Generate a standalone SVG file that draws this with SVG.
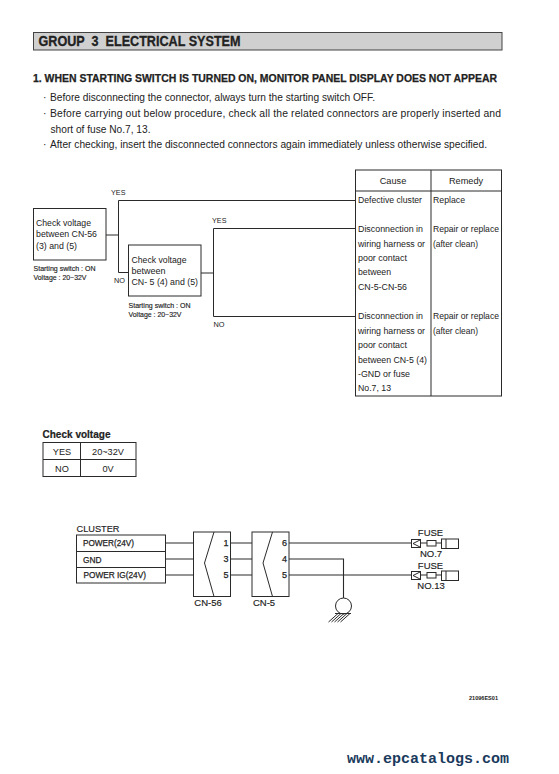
<svg xmlns="http://www.w3.org/2000/svg" width="559" height="774" viewBox="0 0 559 774">
<style>
text{font-family:"Liberation Sans",Arial,sans-serif;fill:#222}
.b{font-size:9px}
.s{font-size:7.2px;stroke:#222;stroke-width:.15px}
.y{font-size:8px}
.t{font-size:9.2px}
.l{font-size:9px;stroke:#222;stroke-width:.25px}
.f{font-size:9.5px;stroke:#222;stroke-width:.15px}
.n{fill:#fff;stroke:#2a2a2a;stroke-width:1}
.w{fill:none;stroke:#2a2a2a;stroke-width:1}
.m{text-anchor:middle}
</style>
<rect width="559" height="774" fill="#fff"/>
<g id="header">
<rect x="33.500" y="32.500" width="468.500" height="17.500" fill="#d0d0d0" stroke="#444" stroke-width="1"/>
<text x="38.500" y="46" font-size="14" font-weight="bold" textLength="202" lengthAdjust="spacingAndGlyphs" xml:space="preserve" style="stroke:#222;stroke-width:.3px">GROUP  3  ELECTRICAL SYSTEM</text>
<text x="33" y="81.500" font-size="11" font-weight="bold" textLength="464" lengthAdjust="spacingAndGlyphs" style="stroke:#222;stroke-width:.25px">1. WHEN STARTING SWITCH IS TURNED ON, MONITOR PANEL DISPLAY DOES NOT APPEAR</text>
</g>
<g id="notes">
<text x="43" y="101" font-size="10.400">·</text><text x="50" y="101" font-size="10.400" textLength="325" lengthAdjust="spacingAndGlyphs">Before disconnecting the connector, always turn the starting switch OFF.</text>
<text x="43" y="117" font-size="10.400">·</text><text x="50" y="117" font-size="10.400" textLength="451" lengthAdjust="spacing">Before carrying out below procedure, check all the related connectors are properly inserted and</text>
<text x="50.500" y="133" font-size="10.400" textLength="100" lengthAdjust="spacingAndGlyphs">short of fuse No.7, 13.</text>
<text x="43" y="148" font-size="10.400">·</text><text x="50" y="148" font-size="10.400" textLength="437" lengthAdjust="spacingAndGlyphs">After checking, insert the disconnected connectors again immediately unless otherwise specified.</text>
</g>
<g id="connectors">
<path class="w" d="M106 235H118M355 200.500H118.500V272.500H128.500M201 273H213M355 228.500H213.500V316.500H355"/>
<path class="w" style="stroke-width:1.1" d="M165 543H193M165 559H193M165 575H193M230 543H252M230 559H252M230 575H252M289 543H412M289 575H412M289 559H343.500V598"/>
<path class="w" d="M421 543H427M436 543H441M421 575H427M436 575H441"/>
</g>
<g id="check1">
<rect class="n" x="33.500" y="208.500" width="72.500" height="51.500"/>
<text class="b" x="36" y="226" textLength="55" lengthAdjust="spacingAndGlyphs">Check voltage</text>
<text class="b" x="36" y="237" textLength="61" lengthAdjust="spacingAndGlyphs">between CN-56</text>
<text class="b" x="36" y="249" textLength="41" lengthAdjust="spacingAndGlyphs">(3) and (5)</text>
<text class="s" x="33.500" y="270.500" textLength="62" lengthAdjust="spacingAndGlyphs">Starting switch : ON</text>
<text class="s" x="33.500" y="279.500" textLength="53" lengthAdjust="spacingAndGlyphs">Voltage : 20~32V</text>
</g>
<g id="check2">
<rect class="n" x="128.500" y="245" width="72.500" height="51"/>
<text class="b" x="131.500" y="263" textLength="55" lengthAdjust="spacingAndGlyphs">Check voltage</text>
<text class="b" x="131.500" y="274" textLength="34" lengthAdjust="spacingAndGlyphs">between</text>
<text class="b" x="131.500" y="285" textLength="66.500" lengthAdjust="spacingAndGlyphs">CN- 5 (4) and (5)</text>
<text class="s" x="128.500" y="307.500" textLength="62" lengthAdjust="spacingAndGlyphs">Starting switch : ON</text>
<text class="s" x="128.500" y="317" textLength="53" lengthAdjust="spacingAndGlyphs">Voltage : 20~32V</text>
</g>
<g id="labels">
<text class="y" x="111" y="195" textLength="14.500" lengthAdjust="spacingAndGlyphs">YES</text>
<text class="y" x="114" y="283" textLength="11" lengthAdjust="spacingAndGlyphs">NO</text>
<text class="y" x="212" y="223" textLength="14.500" lengthAdjust="spacingAndGlyphs">YES</text>
<text class="y" x="213.500" y="327" textLength="11" lengthAdjust="spacingAndGlyphs">NO</text>
</g>
<g id="cause-table">
<rect class="n" x="355.500" y="170" width="146" height="226"/>
<path class="w" d="M355.500 191H501.500M431 170V396"/>
<text class="t m" x="393" y="184">Cause</text>
<text class="t m" x="466" y="184">Remedy</text>
<text class="t" x="358" y="203" textLength="64" lengthAdjust="spacingAndGlyphs">Defective cluster</text>
<text class="t" x="433" y="203" textLength="32" lengthAdjust="spacingAndGlyphs">Replace</text>
<text class="t" x="358" y="232" textLength="65" lengthAdjust="spacingAndGlyphs">Disconnection in</text>
<text class="t" x="358" y="246.500" textLength="67" lengthAdjust="spacingAndGlyphs">wiring harness or</text>
<text class="t" x="358" y="261" textLength="49" lengthAdjust="spacingAndGlyphs">poor contact</text>
<text class="t" x="358" y="275" textLength="33" lengthAdjust="spacingAndGlyphs">between</text>
<text class="t" x="358" y="290" textLength="49" lengthAdjust="spacingAndGlyphs">CN-5-CN-56</text>
<text class="t" x="358" y="319" textLength="65" lengthAdjust="spacingAndGlyphs">Disconnection in</text>
<text class="t" x="358" y="333.500" textLength="67" lengthAdjust="spacingAndGlyphs">wiring harness or</text>
<text class="t" x="358" y="348" textLength="49" lengthAdjust="spacingAndGlyphs">poor contact</text>
<text class="t" x="358" y="362.500" textLength="69" lengthAdjust="spacingAndGlyphs">between CN-5 (4)</text>
<text class="t" x="358" y="377" textLength="52" lengthAdjust="spacingAndGlyphs">-GND or fuse</text>
<text class="t" x="358" y="391" textLength="33" lengthAdjust="spacingAndGlyphs">No.7, 13</text>
<text class="t" x="433" y="232" textLength="66" lengthAdjust="spacingAndGlyphs">Repair or replace</text>
<text class="t" x="433" y="246.500" textLength="45" lengthAdjust="spacingAndGlyphs">(after clean)</text>
<text class="t" x="433" y="319" textLength="66" lengthAdjust="spacingAndGlyphs">Repair or replace</text>
<text class="t" x="433" y="333.500" textLength="45" lengthAdjust="spacingAndGlyphs">(after clean)</text>
</g>
<g id="check-voltage">
<text x="42.500" y="438" font-size="10.500" font-weight="bold" textLength="68" lengthAdjust="spacingAndGlyphs" style="stroke:#222;stroke-width:.2px">Check voltage</text>
<rect class="n" x="43" y="442.500" width="93" height="34"/>
<path class="w" d="M43 459.500H136M80.500 442.500V476.500"/>
<text class="t m" x="62" y="454.500">YES</text>
<text class="t m" x="108" y="454.500">20~32V</text>
<text class="t m" x="62" y="472">NO</text>
<text class="t m" x="108" y="472">0V</text>
</g>
<g id="cluster">
<text class="f" x="76.500" y="532" textLength="43" lengthAdjust="spacingAndGlyphs">CLUSTER</text>
<rect class="n" x="76.500" y="535" width="89" height="48"/>
<path class="w" d="M76.500 551.500H165.500M76.500 567.500H165.500"/>
<text class="l" x="83" y="546" textLength="51" lengthAdjust="spacingAndGlyphs">POWER(24V)</text>
<text class="l" x="83" y="563" textLength="18.500" lengthAdjust="spacingAndGlyphs">GND</text>
<text class="l" x="83.500" y="578" textLength="62.500" lengthAdjust="spacingAndGlyphs">POWER IG(24V)</text>
</g>
<g id="cn-56">
<rect class="n" x="193.500" y="532" width="37" height="64.500"/>
<path class="w" d="M214 532L204.500 563L214 596.500"/>
<text class="l m" x="226" y="546">1</text><text class="l m" x="226" y="562">3</text><text class="l m" x="226" y="578">5</text>
<text class="f m" x="208" y="606">CN-56</text>
</g>
<g id="cn-5">
<rect class="n" x="252" y="532" width="37" height="64.500"/>
<path class="w" d="M272.500 532L263 563L272.500 596.500"/>
<text class="l m" x="284.500" y="546">6</text><text class="l m" x="284.500" y="562">4</text><text class="l m" x="284.500" y="578">5</text>
<text class="f m" x="264" y="606">CN-5</text>
</g>
<g id="ground">
<circle class="n" cx="343.500" cy="606" r="8"/>
<path class="w" d="M335 613.500H351M338 613.500L328.500 622M341 613.500L331.500 622M344 613.500L334.500 622M347 613.500L337.500 622M350 613.500L340.500 622"/>
</g>
<g id="fuse-7">
<text class="f m" x="430.500" y="536">FUSE</text>
<rect class="n" x="411.500" y="539.500" width="9" height="8"/>
<path class="w" d="M420 540L413 543.500L420 547"/>
<rect class="n" x="427" y="540.500" width="9" height="5.500"/>
<rect class="n" x="441.500" y="539" width="17" height="9.500"/>
<path class="w" d="M446 539V548.500"/>
<text class="f m" x="431" y="557">NO.7</text>
</g>
<g id="fuse-13">
<text class="f m" x="430.500" y="569">FUSE</text>
<rect class="n" x="411.500" y="571.500" width="9" height="8"/>
<path class="w" d="M420 572L413 575.500L420 579"/>
<rect class="n" x="427" y="572.500" width="9" height="5.500"/>
<rect class="n" x="441.500" y="571" width="17" height="9.500"/>
<path class="w" d="M446 571V580.500"/>
<text class="f m" x="431" y="589">NO.13</text>
</g>
<g id="footer">
<text x="469" y="700" font-size="6" font-weight="bold" textLength="29" lengthAdjust="spacingAndGlyphs">21096ES01</text>
<text x="347" y="763" font-size="15" font-weight="bold" style="font-family:'Liberation Mono',monospace;fill:#1a3a5c">www.epcatalogs.com</text>
</g>
</svg>
